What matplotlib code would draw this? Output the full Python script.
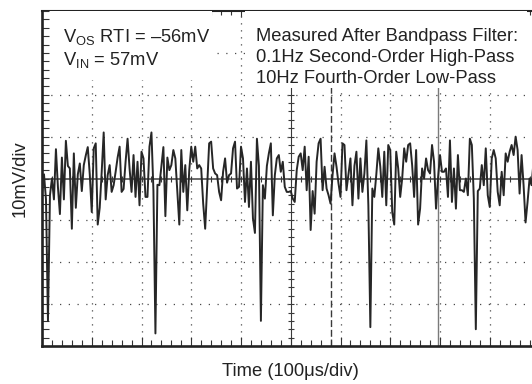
import numpy as np
import matplotlib
matplotlib.use("Agg")
import matplotlib.pyplot as plt
from matplotlib.patches import Rectangle

plt.rcParams['font.family'] = ['Liberation Sans', 'DejaVu Sans']
plt.rcParams['mathtext.fontset'] = 'custom'
plt.rcParams['mathtext.rm'] = 'Liberation Sans'
plt.rcParams['mathtext.it'] = 'Liberation Sans:italic'

# Scope trace in divisions (10mV/div), one sample every 0.04 div (4us)
sample_step_div = 0.04
trace_div = [
    # 0 - 5 div
    -0.35, 0.1, -0.5, -3.4, -0.4, 0.0, -0.5, 0.7, -0.2, -0.85,
    0.5, -0.5, 0.9, 0.3, 0.24, -1.2, 0.6, -0.7, 0.1, 0.36,
    -0.3, 0.32, 0.55, 0.75, 0.1, -0.8, 0.72, 0.84, -1.1, -0.7,
    0.16, 1.1, -0.5, 0.08, 0.32, -0.32, -0.16, 0.16, 0.5, 0.76,
    -0.32, -0.25, 0.4, 0.95, 0.24, -0.32, 0.56, -0.44, 0.4, -0.64,
    0.64, 0.48, -0.44, -0.44, 0.76, 1.1, -0.3, -3.7, -0.15, -0.16,
    0.3, 0.75, -0.9, 0.5, 0.2, 0.32, 0.68, 0.48, -0.32, -1.1,
    0.68, -0.32, 0.32, -0.76, 0.2, 0.76, 0.4, 0.76, 0.24, 0.32,
    0.24, -0.6, -1.2, -0.2, 0.84, 0.88, 0.24, 0.12, 0.08, -0.32,
    -0.52, 0.16, 0.48, -0.1, 0.08, 0.12, 0.72, 0.88, -0.24, -0.2,
    0.76, 0.48, -0.56, 0.24, -0.68, 0.4, -0.95, -1.3, 0.95, 0.3,
    -3.4, -0.16, -0.48, 0.3, 0.6, 0.84, -0.88, 0.08, 0.48, 0.56,
    0.16, 0.4, -0.2, -0.32, -0.32,
    # 5 - 10 div
    -0.3, -0.48, -0.56, 0.2, 0.52, 0.6, 0.2, 0.76, -0.28, 0.52,
    -1.23, -0.3, -0.84, 0.4, 0.84, 0.95, -0.28, 0.28, -0.24, -0.4,
    -0.6, 0.08, 0.6, 0.28, -0.12, -0.44, 0.84, 0.8, -0.28, 0.1,
    0.48, -0.64, 0.3, 0.64, -0.48, 0.48, -0.32, 0.12, 0.91, -0.64,
    -3.55, -0.24, -0.44, 0.1, 0.72, 0.28, -0.44, 0.64, -0.64, 0.8,
    0.68, -0.8, -1.1, 0.64, 0.24, -0.44, 0.0, 0.72, 0.4, 0.8,
    0.84, 0.32, -0.44, 0.68, -1.1, -0.72, 0.24, 0.0, 0.48, 0.2,
    0.12, 0.8, 0.4, -0.72, 0.0, 0.56, 0.16, 0.16, 0.24, -0.44,
    0.91, -0.56, 0.24, -0.72, 0.56, -0.28, -0.28, -0.32, 0.0, -0.4,
    0.95, 0.8, -0.48, -3.6, -0.3, -0.24, 0.32, -0.16, 0.72, -0.4,
    -0.68, 0.48, 0.68, 0.48, -0.32, -0.64, 0.16, -0.4, 0.6, 0.4,
    0.64, 0.8, 0.56, 1.0, 0.68, -0.36, 0.56, -0.16, -1.05, -0.56,
    0.0, -0.16, 0.4, -0.6, 0.5,
]
time_div = np.arange(len(trace_div)) * sample_step_div

x_divs = 10
y_divs = 8
cursor_dashed_x = 5.81
cursor_solid_x = 7.96

left_lines = ["V$_{\\mathrm{OS}}$ RTI = –56mV", "V$_{\\mathrm{IN}}$ = 57mV"]
right_lines = ["Measured After Bandpass Filter:",
               "0.1Hz Second-Order High-Pass",
               "10Hz Fourth-Order Low-Pass"]

FS = 13.2
W, H = 532, 384
fig = plt.figure(figsize=(W / 100, H / 100), dpi=100)
ax = fig.add_axes([42 / W, 38 / H, 497.5 / W, 335 / H])
ax.set_xlim(0, x_divs)
ax.set_ylim(-y_divs / 2, y_divs / 2)

grid_col = '#4a4a4a'
# dotted graticule
for xv in range(1, x_divs):
    if xv == x_divs // 2:
        continue
    ax.axvline(xv, color=grid_col, lw=0.9, ls=(0, (1.0, 4.6)), zorder=1)
for yv in range(-y_divs // 2 + 1, y_divs // 2):
    if yv == 0:
        continue
    ax.axhline(yv, color=grid_col, lw=0.9, ls=(0, (1.0, 6.0)), zorder=1)

# centre axes with minor ticks
ax.axhline(0, color='#5e5e5e', lw=1.3, zorder=1.2)
ax.axvline(x_divs / 2, color='#3a3a3a', lw=0.8, zorder=1.2)
minor_y = np.arange(-y_divs / 2, y_divs / 2 + 0.01, 0.2)
minor_x = np.arange(0, x_divs + 0.01, 0.2)
ax.plot(np.full(minor_y.size, x_divs / 2), minor_y, ls='none', marker='_',
        ms=5, mew=0.8, color='#3a3a3a', zorder=1.2)
ax.plot(minor_x, np.zeros(minor_x.size), ls='none', marker='|',
        ms=5, mew=0.8, color='#3a3a3a', zorder=1.2)

# cursors
ax.axvline(cursor_dashed_x, color='#3a3a3a', lw=1.0, ls=(0, (5, 2)), zorder=1.3)
ax.axvline(cursor_solid_x, color='#7a7a7a', lw=1.0, zorder=1.3)

# text panels mask the graticule beneath
ax.add_patch(Rectangle((0, 2.36), 3.42, 1.64, facecolor='white', edgecolor='none', zorder=1.5))
ax.add_patch(Rectangle((4.08, 2.17), 5.67, 1.83, facecolor='white', edgecolor='none', zorder=1.5))

# trace
ax.plot(time_div, trace_div, color='#262626', lw=1.4, zorder=3)

txt_kw = dict(fontsize=FS, color='#222222', va='baseline', ha='left', zorder=4)
for label, yb in zip(left_lines, [3.25, 2.72]):
    ax.text(0.42, yb, label, **txt_kw)
for label, yb in zip(right_lines, [3.29, 2.79, 2.27]):
    ax.text(4.30, yb, label, **txt_kw)

# frame and ticks
ax.spines['right'].set_visible(False)
ax.spines['top'].set_visible(False)
for side, w in [('left', 1.9), ('bottom', 1.9)]:
    ax.spines[side].set_linewidth(w)
    ax.spines[side].set_color('#222222')

ax.set_xticks(np.arange(0, x_divs + 0.01, 1))
ax.set_xticks(minor_x, minor=True)
ax.set_yticks(np.arange(-y_divs / 2, y_divs / 2 + 0.01, 1))
ax.set_yticks(minor_y, minor=True)
ax.set_xticklabels([])
ax.set_yticklabels([])
ax.tick_params(axis='x', which='major', direction='in', length=6.5, width=0.8, color='#333333')
ax.tick_params(axis='x', which='minor', direction='in', length=4.5, width=0.8, color='#333333')
ax.tick_params(axis='y', which='major', direction='in', length=5, width=0.8, color='#333333')
ax.tick_params(axis='y', which='minor', direction='in', length=5, width=0.8, color='#333333')

top = ax.secondary_xaxis('top')
top.set_xticks(np.arange(0, x_divs + 0.01, 1))
top.set_xticks(minor_x, minor=True)
top.set_xticklabels([])
top.spines['top'].set_linewidth(1.5)
top.spines['top'].set_color('#222222')
top.tick_params(which='major', direction='in', length=4.5, width=0.8, color='#333333')
top.tick_params(which='minor', direction='in', length=3, width=0.8, color='#333333')

fig.text(20 / W, 1 - 179 / H, "10mV/div", rotation=90, ha='center', va='center',
         fontsize=FS, color='#222222')
fig.text(290 / W, 1 - 372 / H, "Time (100μs/div)", ha='center', va='center',
         fontsize=FS, color='#222222')

fig.savefig("out.png", dpi=100)
